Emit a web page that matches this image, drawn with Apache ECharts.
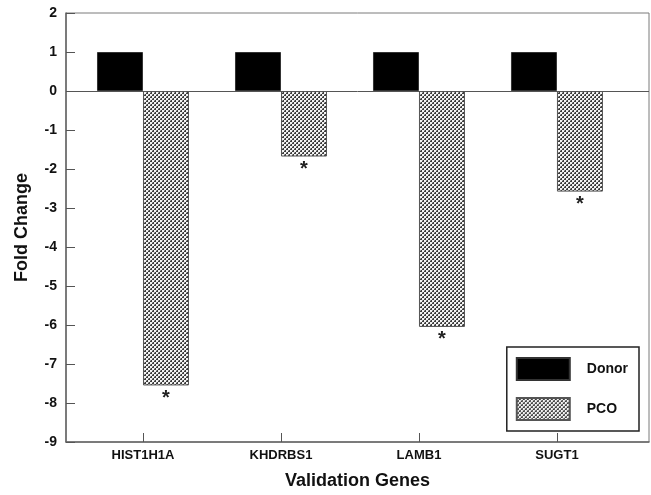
<!DOCTYPE html>
<html>
<head>
<meta charset="utf-8">
<script src="https://cdn.jsdelivr.net/npm/echarts@6/dist/echarts.min.js"></script>
<style>html,body{margin:0;padding:0;background:#fff}#c{width:651px;height:495px}</style>
</head>
<body>
<div id="c"></div>
<script>
const categories = ['HIST1H1A', 'KHDRBS1', 'LAMB1', 'SUGT1'];
const donorValues = [1, 1, 1, 1];
const pcoValues = [-7.55, -1.68, -6.05, -2.58];
const yTicks = [2, 1, 0, -1, -2, -3, -4, -5, -6, -7, -8, -9];

const positions = categories.map((c, i) => i + 1);

const cv = document.createElement('canvas');
cv.width = 4; cv.height = 4;
const cx = cv.getContext('2d');
cx.fillStyle = '#3c3c3c'; cx.fillRect(0, 0, 4, 4);
cx.fillStyle = '#f4f4f4'; cx.fillRect(0, 0, 2, 2); cx.fillRect(2, 2, 2, 2);
cx.fillStyle = '#9a9a9a'; cx.fillRect(2, 0, 1, 1); cx.fillRect(0, 2, 1, 1);
const pattern = { image: cv, repeat: 'repeat' };

const font = 'Liberation Sans, Arial, sans-serif';
const chart = echarts.init(document.getElementById('c'), null, { renderer: 'canvas' });
chart.setOption({
  animation: false,
  textStyle: { fontFamily: font },
  grid: { left: 66, right: 2, top: 13, bottom: 51, show: true, borderColor: '#7a7a7a', borderWidth: 1 },
  legend: {
    orient: 'vertical', right: 12, top: 347, icon: 'rect',
    itemWidth: 53, itemHeight: 22, itemGap: 16,
    padding: [10, 11, 10, 9],
    borderColor: '#222', borderWidth: 1.5,
    textStyle: { fontSize: 14, fontWeight: 'bold', color: '#111', fontFamily: font, padding: [0, 0, 0, 12] },
    data: ['Donor', 'PCO']
  },
  xAxis: {
    type: 'value', min: 0.442, max: 4.667,
    name: 'Validation Genes', nameLocation: 'middle', nameGap: 30,
    nameTextStyle: { fontSize: 18, fontWeight: 'bold', color: '#111', fontFamily: font },
    axisLine: { show: true, onZero: false, lineStyle: { color: '#666', width: 1.5 } },
    axisTick: { show: true, inside: true, length: 9, customValues: positions, lineStyle: { color: '#555' } },
    axisLabel: { customValues: positions, margin: 7, fontSize: 13, fontWeight: 'bold', color: '#111', fontFamily: font,
      formatter: v => categories[Math.round(v) - 1] || '' },
    splitLine: { show: false }
  },
  yAxis: {
    type: 'value', min: -9, max: 2, interval: 1,
    name: 'Fold Change', nameLocation: 'middle', nameGap: 35,
    nameTextStyle: { fontSize: 18, fontWeight: 'bold', color: '#111', fontFamily: font },
    axisLine: { show: true, lineStyle: { color: '#666', width: 1.5 } },
    axisTick: { show: true, inside: true, length: 9, lineStyle: { color: '#555' } },
    axisLabel: { margin: 9, fontSize: 14, fontWeight: 'bold', color: '#111', fontFamily: font,
      formatter: v => yTicks.includes(v) ? String(v) : '' },
    splitLine: { show: false }
  },
  series: [
    {
      name: 'Donor', type: 'bar', barWidth: 46, barGap: '0%',
      data: positions.map((p, i) => [p, donorValues[i]]),
      itemStyle: { color: '#000', borderColor: '#333', borderWidth: 1 },
      markLine: {
        silent: true, symbol: 'none', label: { show: false },
        lineStyle: { color: '#555', width: 1, type: 'solid' },
        data: [{ yAxis: 0 }]
      }
    },
    {
      name: 'PCO', type: 'bar', barWidth: 46, barGap: '0%',
      data: positions.map((p, i) => [p, pcoValues[i]]),
      itemStyle: { color: pattern, borderColor: '#555', borderWidth: 1 },
      label: { show: true, position: 'bottom', distance: 3, formatter: '*', fontSize: 20, fontWeight: 'bold', color: '#222', fontFamily: font }
    }
  ]
});
</script>
</body>
</html>
